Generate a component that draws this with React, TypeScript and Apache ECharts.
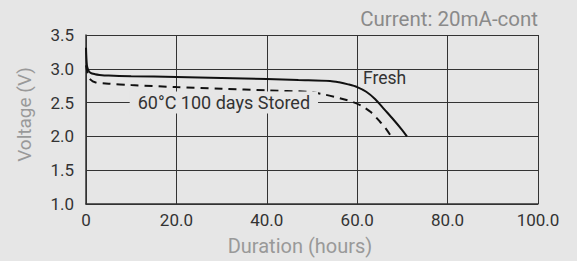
import React, { useEffect, useRef } from "react";
import * as echarts from "echarts";

const xTicks = [0, 20, 40, 60, 80, 100];
const yTicks = [1.0, 1.5, 2.0, 2.5, 3.0, 3.5];

const freshHours = [0, 0.2, 0.5, 1, 2, 3, 5, 10, 20, 30, 40, 47, 54, 56, 58, 60, 62, 64, 66, 68, 70, 71];
const freshVolts = [3.31, 3.05, 2.98, 2.94, 2.92, 2.91, 2.9, 2.89, 2.88, 2.865, 2.85, 2.835, 2.82, 2.8, 2.77, 2.73, 2.66, 2.55, 2.4, 2.25, 2.09, 2.0];

const storedHours = [0, 0.5, 1, 2, 5, 10, 20, 30, 40, 49, 52, 55, 57, 59, 61, 63, 65, 66.5, 67.5];
const storedVolts = [3.05, 2.9, 2.84, 2.8, 2.78, 2.76, 2.73, 2.705, 2.68, 2.66, 2.63, 2.585, 2.55, 2.51, 2.45, 2.36, 2.22, 2.1, 2.0];

const titleText = "Current: 20mA-cont";
const freshLabel = "Fresh";
const storedLabel = "60°C 100 days Stored";

const BG = "#e6e6e6";
const FONT = "Roboto";

export default function App() {
  const ref = useRef<HTMLDivElement>(null);
  useEffect(() => {
    document.body.style.margin = "0";
    const chart = echarts.init(ref.current!, undefined, { renderer: "svg" });
    const zip = (xs: number[], ys: number[]) => xs.map((x, i) => [x, ys[i]]);
    chart.setOption({
      animation: false,
      backgroundColor: BG,
      textStyle: { fontFamily: FONT },
      title: {
        text: titleText,
        right: 39,
        top: 8,
        padding: 0,
        textStyle: { fontFamily: FONT, fontSize: 20.5, fontWeight: "normal", color: "#8a8a8a" },
      },
      grid: { left: 86, right: 39, top: 35, bottom: 53 },
      xAxis: {
        type: "value",
        min: xTicks[0],
        max: xTicks[xTicks.length - 1],
        interval: 20,
        name: "Duration (hours)",
        nameLocation: "middle",
        nameGap: 32,
        nameTextStyle: { fontFamily: FONT, fontSize: 20, color: "#999", padding: [0, 24, 0, 0] },
        axisLine: { show: true, lineStyle: { color: "#333", width: 1.5 } },
        axisTick: { show: false },
        axisLabel: {
          fontFamily: FONT,
          fontSize: 17,
          color: "#333",
          margin: 7,
          formatter: (v: number) => (v === 0 ? "0" : v.toFixed(1)),
        },
        splitLine: { show: true, lineStyle: { color: "#333", width: 1 } },
      },
      yAxis: {
        type: "value",
        min: yTicks[0],
        max: yTicks[yTicks.length - 1],
        interval: 0.5,
        name: "Voltage (V)",
        nameLocation: "middle",
        nameGap: 52,
        nameTextStyle: { fontFamily: FONT, fontSize: 19, color: "#999", padding: [0, 0, 0, 10] },
        axisLine: { show: true, lineStyle: { color: "#333", width: 1.5 } },
        axisTick: { show: false },
        axisLabel: {
          fontFamily: FONT,
          fontSize: 17,
          color: "#333",
          margin: 12,
          formatter: (v: number) => v.toFixed(1),
        },
        splitLine: { show: true, lineStyle: { color: "#333", width: 1 } },
      },
      series: [
        {
          type: "line",
          name: "Stored",
          data: zip(storedHours, storedVolts),
          showSymbol: false,
          smooth: 0.3,
          lineStyle: { color: "#111", width: 2, type: [8, 6] },
          markPoint: {
            symbol: "rect",
            symbolSize: 0,
            silent: true,
            data: [{ coord: [30.5, 2.5] }],
            label: {
              show: true,
              position: "inside",
              formatter: storedLabel,
              fontFamily: FONT,
              fontSize: 18,
              color: "#333",
              backgroundColor: BG,
              padding: [2, 8],
            },
          },
          z: 3,
        },
        {
          type: "line",
          name: "Fresh",
          data: zip(freshHours, freshVolts),
          showSymbol: false,
          smooth: 0.3,
          lineStyle: { color: "#111", width: 2 },
          markPoint: {
            symbol: "rect",
            symbolSize: 0,
            silent: true,
            data: [{ coord: [61.3, 2.857] }],
            label: {
              show: true,
              position: "right",
              distance: 0,
              formatter: freshLabel,
              fontFamily: FONT,
              fontSize: 17.5,
              color: "#333",
            },
          },
          z: 4,
        },
      ],
    });
    return () => chart.dispose();
  }, []);
  return <div ref={ref} style={{ width: 577, height: 261 }} />;
}
